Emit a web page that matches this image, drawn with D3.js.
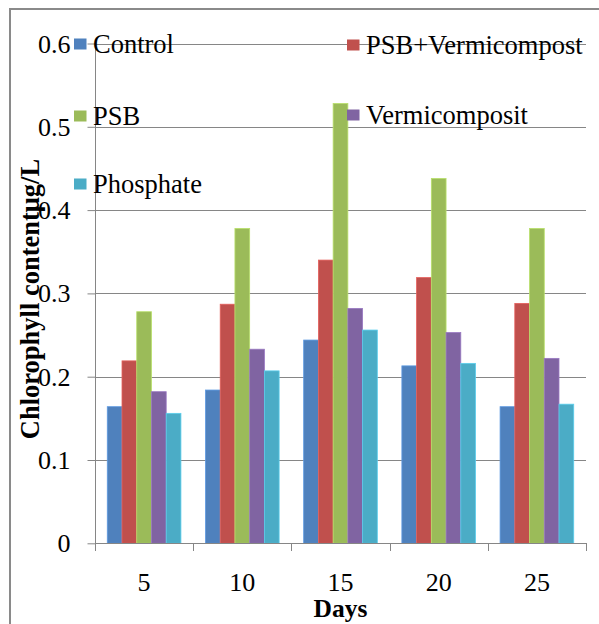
<!DOCTYPE html>
<html>
<head>
<meta charset="utf-8">
<script src="https://cdn.jsdelivr.net/npm/d3@7"></script>
<style>
  html, body { margin: 0; padding: 0; background: #fff; }
  svg { display: block; }
</style>
</head>
<body>
<script>
// Chlorophyll content by day and treatment
const days = ["5", "10", "15", "20", "25"];
const seriesNames = ["Control", "PSB+Vermicompost", "PSB", "Vermicomposit", "Phosphate"];
const control        = [0.164, 0.184, 0.244, 0.213, 0.164];
const psbVermi       = [0.219, 0.287, 0.340, 0.319, 0.288];
const psb            = [0.278, 0.378, 0.528, 0.438, 0.378];
const vermicomposit  = [0.182, 0.233, 0.282, 0.253, 0.222];
const phosphate      = [0.156, 0.207, 0.256, 0.216, 0.167];
const yTicks = [0, 0.1, 0.2, 0.3, 0.4, 0.5, 0.6];
const colors = ["#4F81BD", "#C0504D", "#9BBB59", "#8064A2", "#4BACC6"];

const seriesValues = [control, psbVermi, psb, vermicomposit, phosphate];

const FONT = '"Liberation Serif", "Times New Roman", serif';
const W = 599, H = 624;
const plot = { left: 95, right: 586, top: 43.5, bottom: 543.3 };

const svg = d3.select("body").append("svg")
  .attr("width", W).attr("height", H);

// outer chart frame
svg.append("rect")
  .attr("x", 10).attr("y", 9)
  .attr("width", W + 10).attr("height", H + 10)
  .attr("fill", "none").attr("stroke", "#8a8a8a").attr("stroke-width", 2);

const y = d3.scaleLinear().domain([0, 0.6]).range([plot.bottom, plot.top]);
const x0 = d3.scaleBand().domain(days).range([plot.left, plot.right])
  .paddingInner(0.25).paddingOuter(0.125);
const x1 = d3.scaleBand().domain(d3.range(seriesNames.length)).range([0, x0.bandwidth()]);

const gridColor = "#868686";

// horizontal gridlines
svg.append("g")
  .selectAll("line")
  .data(yTicks.filter(d => d > 0))
  .join("line")
  .attr("x1", plot.left).attr("x2", plot.right)
  .attr("y1", d => Math.round(y(d)) + 0.5).attr("y2", d => Math.round(y(d)) + 0.5)
  .attr("stroke", gridColor).attr("stroke-width", 1);

// bars
const groups = svg.append("g")
  .selectAll("g")
  .data(days)
  .join("g")
  .attr("transform", d => `translate(${x0(d)},0)`);

groups.selectAll("rect")
  .data((d, i) => seriesValues.map((vals, s) => ({ s, v: vals[i] })))
  .join("rect")
  .attr("x", d => x1(d.s))
  .attr("width", x1.bandwidth())
  .attr("y", d => y(d.v))
  .attr("height", d => y(0) - y(d.v))
  .attr("fill", d => colors[d.s])
  .attr("stroke", d => d3.color(colors[d.s]).brighter(0.5))
  .attr("stroke-width", 0.8);

// y axis
const yAxis = d3.axisLeft(y)
  .tickValues(yTicks)
  .tickSize(8)
  .tickPadding(17)
  .tickFormat(d => d === 0 ? "0" : d3.format(".1f")(d));
const gy = svg.append("g")
  .attr("transform", `translate(${plot.left + 0.5},0)`)
  .call(yAxis);
gy.select(".domain").attr("stroke", gridColor).attr("d", `M0,${plot.top}V${plot.bottom}`);
gy.selectAll(".tick line").attr("stroke", gridColor);
gy.selectAll(".tick text")
  .style("font-family", FONT)
  .attr("font-size", 26).attr("fill", "#000").attr("dy", "0.33em");

// x axis: baseline, boundary ticks, centred labels
const xg = svg.append("g");
xg.append("line")
  .attr("x1", plot.left).attr("x2", plot.right)
  .attr("y1", Math.round(y(0)) + 0.5).attr("y2", Math.round(y(0)) + 0.5)
  .attr("stroke", gridColor);
const bounds = days.map(d => x0(d) - x0.step() * x0.paddingInner() / 2)
  .concat([x0(days[days.length - 1]) + x0.bandwidth() + x0.step() * x0.paddingInner() / 2]);
xg.selectAll("line.tick")
  .data(bounds)
  .join("line")
  .attr("class", "tick")
  .attr("x1", d => Math.round(d) + 0.5).attr("x2", d => Math.round(d) + 0.5)
  .attr("y1", Math.round(y(0))).attr("y2", Math.round(y(0)) + 8)
  .attr("stroke", gridColor);
xg.selectAll("text")
  .data(days)
  .join("text")
  .attr("x", d => x0(d) + x0.bandwidth() / 2)
  .attr("y", 591)
  .attr("text-anchor", "middle")
  .style("font-family", FONT)
  .attr("font-size", 26)
  .text(d => d);

// axis titles
svg.append("text")
  .attr("x", (plot.left + plot.right) / 2)
  .attr("y", 617)
  .attr("text-anchor", "middle")
  .style("font-family", FONT)
  .attr("font-size", 25.5)
  .attr("font-weight", "bold")
  .text("Days");

svg.append("text")
  .attr("transform", "translate(38.5,299) rotate(-90)")
  .attr("text-anchor", "middle")
  .style("font-family", FONT)
  .attr("font-size", 26.5)
  .attr("font-weight", "bold")
  .text("Chlorophyll contentμg/L");

// legend in two columns, drawn over the plot
const legendPos = [
  { x: 74, y: 44 }, { x: 347, y: 45 },
  { x: 74, y: 116 }, { x: 347, y: 115 },
  { x: 74, y: 184 }
];
const legend = svg.append("g")
  .selectAll("g")
  .data(seriesNames)
  .join("g")
  .attr("transform", (d, i) => `translate(${legendPos[i].x},${legendPos[i].y})`);
legend.append("rect")
  .attr("x", 0).attr("y", -5.5)
  .attr("width", 12.5).attr("height", 11)
  .attr("fill", (d, i) => colors[i]);
legend.append("text")
  .attr("x", 19)
  .attr("dy", "0.35em")
  .style("font-family", FONT)
  .attr("font-size", 26.5)
  .text(d => d);
</script>
</body>
</html>
